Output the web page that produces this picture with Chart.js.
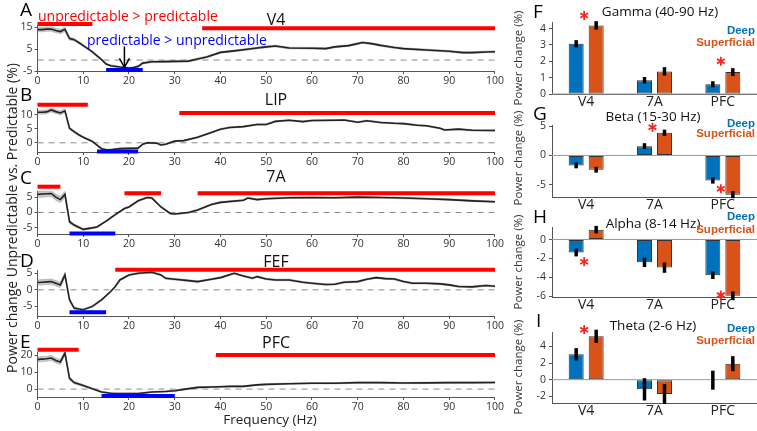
<!DOCTYPE html>
<html>
<head>
<meta charset="utf-8">
<script src="https://cdn.jsdelivr.net/npm/chart.js@4.4.1/dist/chart.umd.min.js"></script>
<style>
body{margin:0;width:757px;height:431px;position:relative;overflow:hidden;background:#fff;font-family:"Open Sans",sans-serif;}
canvas{position:absolute;}
.t{position:absolute;white-space:nowrap;line-height:1;}
</style>
</head>
<body>
<script>
// ---- spectra, left column (Hz vs % change) ----
const freqA = [0,1,2,3,4,5,6,7,8,9,10,12,14,15,16,18,20,21,22,23,25,28,30,33,35,37,40,43,45,48,50,52,55,60,63,65,68,70,71,73,75,78,80,85,90,93,95,98,100];
const powA  = [13.9,13.9,14.1,14.2,13.5,13.0,14.0,9.8,9.3,8.0,6.6,3.7,0.2,-1.8,-2.6,-3.2,-3.7,-3.4,-2.9,-1.4,-0.8,-0.7,-0.6,-0.5,0.5,1.4,3.5,4.2,4.7,5.5,6.0,6.4,5.5,5.4,5.2,6.0,6.6,7.5,8.0,7.5,6.7,5.7,5.2,4.6,4.0,3.4,3.4,3.7,3.8];
const semA  = [1,1,1,1,1,1,1,.7,.6,.5,.4,.4,.4,.4,.4,.4,.4,.4,.4,.4,.4,.4,.4,.4,.4,.4,.4,.4,.4,.4,.4,.4,.4,.4,.4,.4,.4,.4,.4,.4,.4,.4,.4,.4,.4,.4,.4,.4,.4];

const freqB = [0,1,2,3,4,5,6,7,8,9,10,12,13,14,15,16,18,20,22,23,24,26,27,28,30,32,35,38,40,42,45,48,50,52,55,58,60,65,67,70,72,75,78,80,83,85,88,89,92,95,100];
const powB  = [11.0,11.0,11.1,11.8,11.2,10.7,11.5,5.2,4.0,2.9,2.0,0.5,-0.8,-2.1,-2.5,-2.5,-2.1,-2.0,-1.9,-0.5,0,-0.1,-0.8,-0.5,0.6,0.8,2.0,3.7,4.9,5.5,5.8,6.6,6.6,7.7,8.1,7.6,8.0,8.1,8.2,7.4,7.9,7.3,7.0,6.9,6.3,6.1,5.2,4.6,4.9,4.5,4.4];
const semB  = [.7,.7,.7,.7,.7,.7,.7,.5,.4,.3,.25,.25,.25,.25,.25,.25,.25,.25,.25,.25,.25,.25,.25,.25,.25,.25,.25,.25,.25,.25,.25,.25,.25,.25,.25,.25,.25,.25,.25,.25,.25,.25,.25,.25,.25,.25,.25,.25,.25,.25,.25];

const freqC = [0,1,2,3,4,5,6,7,8,10,12,13,15,17,19,20,22,24,25,27,29,30,33,35,38,40,45,46,48,50,55,60,65,70,75,80,85,90,95,100];
const powC  = [5.9,6.0,6.1,6.2,5.0,4.2,5.9,-3.0,-4.1,-5.5,-5.0,-4.7,-2.8,-0.7,1.3,1.8,3.8,4.9,4.7,1.8,-0.3,-0.5,0,0.8,2.6,3.3,4.0,4.7,4.2,4.5,4.8,4.9,4.8,5.0,4.9,4.7,4.5,4.2,3.8,3.5];
const semC  = [1,1,1,1,1,1,1,.6,.4,.3,.25,.25,.25,.25,.25,.25,.25,.25,.25,.25,.25,.25,.25,.25,.25,.25,.25,.25,.25,.25,.25,.25,.25,.25,.25,.25,.25,.25,.25,.25];

const freqD = [0,1,2,3,4,5,6,7,8,9,10,12,14,16,17,18,20,22,25,27,28,30,33,35,38,40,43,45,47,48,50,52,55,58,60,63,65,67,70,72,74,76,78,80,82,85,88,90,92,95,98,100];
const powD  = [2.2,2.3,2.4,2.5,2.0,1.5,4.5,-3.0,-5.5,-5.8,-6.0,-5.0,-3.0,-0.5,1.0,3.0,4.5,5.0,5.3,4.5,3.5,3.2,2.8,2.5,3.2,3.7,5.0,4.2,3.5,4.0,3.3,3.0,3.0,2.3,2.0,1.6,1.7,2.3,2.5,3.2,3.7,3.4,3.3,2.5,2.0,2.0,1.8,1.5,1.0,0.9,1.3,1.1];
const semD  = [.8,.8,.8,.8,.8,.8,.8,.6,.4,.3,.25,.25,.25,.25,.25,.25,.25,.25,.25,.25,.25,.25,.25,.25,.25,.25,.25,.25,.25,.25,.25,.25,.25,.25,.25,.25,.25,.25,.25,.25,.25,.25,.25,.25,.25,.25,.25,.25,.25,.25,.25,.25];

const freqE = [0,1,2,3,4,5,6,7,8,10,12,14,16,18,20,22,25,28,30,32,35,38,40,42,45,48,50,55,60,65,70,75,80,85,90,95,100];
const powE  = [17.5,17.8,18.0,18.4,17.0,16.1,21.4,6.4,3.9,2.1,0.2,-1.7,-2.5,-2.7,-2.7,-2.7,-1.7,-1.4,-1.0,-0.2,1.0,1.2,1.4,1.6,1.6,2.5,2.8,3.2,3.5,3.5,3.8,3.8,3.6,3.7,3.8,3.8,3.9];
const semE  = [1.5,1.5,1.5,1.5,1.5,1.5,1.5,1,.8,.6,.4,.4,.4,.4,.4,.4,.4,.4,.4,.4,.4,.4,.4,.4,.4,.4,.4,.4,.4,.4,.4,.4,.4,.4,.4,.4,.4];

// significant frequency ranges (Hz)
const upA = [[0,12],[36,100]], downA = [[15,23]];
const upB = [[0,11],[31,100]], downB = [[13,22]];
const upC = [[0,5],[19,27],[35,100]], downC = [[7,17]];
const upD = [[17,100]], downD = [[7,15]];
const upE = [[0,9],[39,100]], downE = [[14,30]];

const freqTicks = [0,10,20,30,40,50,60,70,80,90,100];

// ---- laminar bars, right column ----
const areas = ['V4','7A','PFC'];
const deepF = [3.07,0.84,0.59],   supF = [4.19,1.38,1.34];
const errDeepF = [0.22,0.2,0.19], errSupF = [0.26,0.26,0.24];
const deepG = [-1.7,1.59,-4.26],  supG = [-2.44,3.86,-6.7];
const errDeepG = [0.5,0.5,0.55],  errSupG = [0.5,0.55,0.6];
const deepH = [-1.37,-2.42,-3.79], supH = [1.05,-2.98,-5.96];
const errDeepH = [0.42,0.5,0.4],  errSupH = [0.4,0.55,0.45];
const deepI = [3.04,-1.16,-0.06], supI = [5.2,-1.72,1.92];
const errDeepI = [0.74,1.34,1.14], errSupI = [0.8,1.2,0.9];
// significance stars: [area index, value]
const starsF = [[0,4.8],[2,2.0]];
const starsG = [[1,4.8],[2,-5.7]];
const starsH = [[0,-2.35],[2,-5.9]];
const starsI = [[0,6.0]];

Chart.defaults.font.family = '"Open Sans", sans-serif';

function addText(txt, x, y, size, color, opts) {
  opts = opts || {};
  const d = document.createElement('div');
  d.className = 't';
  d.textContent = txt;
  d.style.fontSize = size + 'px';
  d.style.color = color;
  if (opts.bold) d.style.fontWeight = 'bold';
  if (opts.family) d.style.fontFamily = opts.family;
  const tx = opts.align === 'left' ? '0' : opts.align === 'right' ? '-100%' : '-50%';
  d.style.left = x + 'px';
  d.style.top = y + 'px';
  d.style.transform = 'translate(' + tx + ',-50%)' + (opts.rot ? ' rotate(' + opts.rot + 'deg)' : '');
  document.body.appendChild(d);
}

function makeCanvas(left, top, w, h) {
  const c = document.createElement('canvas');
  c.width = w; c.height = h;
  c.style.left = left + 'px'; c.style.top = top + 'px';
  c.style.width = w + 'px'; c.style.height = h + 'px';
  document.body.appendChild(c);
  return c;
}

const zeroLine = {
  id: 'zeroLine',
  beforeDatasetsDraw(chart, args, o) {
    const {ctx, chartArea: a} = chart;
    const py = chart.scales.y.getPixelForValue(0);
    ctx.save();
    ctx.strokeStyle = o.color;
    ctx.lineWidth = 1;
    ctx.setLineDash(o.dash || []);
    ctx.beginPath(); ctx.moveTo(a.left, py); ctx.lineTo(a.right, py); ctx.stroke();
    ctx.restore();
  }
};

const arrowMark = {
  id: 'arrowMark',
  afterDatasetsDraw(chart, args, o) {
    if (!o.at) return;
    const {ctx, scales: {x, y}} = chart;
    const px = x.getPixelForValue(o.at), y1 = y.getPixelForValue(o.from), y2 = y.getPixelForValue(o.to);
    ctx.save();
    ctx.strokeStyle = '#000'; ctx.lineWidth = 1.5;
    ctx.beginPath(); ctx.moveTo(px, y1); ctx.lineTo(px, y2 - 1); ctx.stroke();
    ctx.beginPath(); ctx.moveTo(px - 5, y2 - 9); ctx.lineTo(px, y2); ctx.lineTo(px + 5, y2 - 9); ctx.stroke();
    ctx.restore();
  }
};

function spectrum(p) {
  const top = Math.round(p.top) - 20;
  const h = Math.round(p.bottom) - Math.round(p.top) + 36;
  const c = makeCanvas(0, top, 505, h);
  const hi = p.freq.map((f, i) => ({x: f, y: p.pow[i] + p.sem[i]}));
  const lo = p.freq.map((f, i) => ({x: f, y: p.pow[i] - p.sem[i]}));
  const mean = p.freq.map((f, i) => ({x: f, y: p.pow[i]}));
  const datasets = [
    {data: hi, fill: '+1', order: 5, backgroundColor: 'rgba(175,175,175,0.7)', borderColor: 'rgba(150,150,150,0.8)', borderWidth: 0.6},
    {data: lo, fill: false, order: 5, borderColor: 'rgba(150,150,150,0.8)', borderWidth: 0.6},
    {data: mean, order: 1, borderColor: '#222', borderWidth: 1.6}
  ];
  p.up.forEach((r, i) => datasets.push({
    data: [{x: r[0], y: p.upLevel[i]}, {x: r[1], y: p.upLevel[i]}], order: 0,
    borderColor: '#ff0000', borderWidth: 4, clip: false, borderCapStyle: 'butt'
  }));
  p.down.forEach((r) => datasets.push({
    data: [{x: r[0], y: p.downLevel}, {x: r[1], y: p.downLevel}], order: 0,
    borderColor: '#0000ff', borderWidth: 4, clip: false, borderCapStyle: 'butt'
  }));
  new Chart(c, {
    type: 'line',
    data: {datasets},
    options: {
      responsive: false, animation: false,
      layout: {padding: {top: 20, right: 8, left: 0, bottom: 0}},
      elements: {point: {radius: 0}, line: {tension: 0}},
      plugins: {legend: {display: false}, tooltip: {enabled: false},
        zeroLine: {color: '#8c8c8c', dash: [6, 5]}, arrowMark: p.arrow || {}},
      scales: {
        x: {type: 'linear', min: 0, max: 100,
          afterBuildTicks(s) { s.ticks = freqTicks.map(v => ({value: v})); },
          ticks: {font: {size: 10.5}, color: '#333', padding: 1, maxRotation: 0},
          grid: {drawOnChartArea: false, tickLength: 3, color: '#555'},
          border: {color: '#555'},
          afterFit(s) { s.height = 16; }},
        y: {min: p.min, max: p.max,
          afterBuildTicks(s) { s.ticks = p.ticks.map(v => ({value: v})); },
          ticks: {font: {size: 10.5}, color: '#333', padding: 2},
          grid: {drawOnChartArea: false, tickLength: 3, color: '#555'},
          border: {color: '#555'},
          afterFit(s) { s.width = 37.5; }}
      }
    },
    plugins: [zeroLine, arrowMark]
  });
}

const barExtras = {
  id: 'barExtras',
  afterDatasetsDraw(chart, args, o) {
    const {ctx, scales: {x, y}} = chart;
    ctx.save();
    ctx.strokeStyle = '#000'; ctx.lineWidth = 3.5;
    o.errors.forEach((errs, di) => {
      const meta = chart.getDatasetMeta(di);
      meta.data.forEach((bar, j) => {
        const v = chart.data.datasets[di].data[j];
        ctx.beginPath();
        ctx.moveTo(bar.x, y.getPixelForValue(v + errs[j]));
        ctx.lineTo(bar.x, y.getPixelForValue(v - errs[j]));
        ctx.stroke();
      });
    });
    ctx.strokeStyle = '#ff2020'; ctx.lineWidth = 1.8;
    o.stars.forEach(([ci, v]) => {
      const cx = x.getPixelForValue(ci) - 2, cy = y.getPixelForValue(v), r = 4.5;
      [90, 30, 150].forEach(a => {
        const dx = r * Math.cos(a * Math.PI / 180), dy = r * Math.sin(a * Math.PI / 180);
        ctx.beginPath(); ctx.moveTo(cx - dx, cy - dy); ctx.lineTo(cx + dx, cy + dy); ctx.stroke();
      });
    });
    ctx.restore();
  }
};

function laminar(p) {
  const top = Math.round(p.top) - 12;
  const h = Math.round(p.bottom) - Math.round(p.top) + 32;
  const c = makeCanvas(500, top, 257, h);
  const bar = {categoryPercentage: 0.585, barPercentage: 0.75, borderColor: '#333', borderWidth: 1, borderSkipped: false};
  new Chart(c, {
    type: 'bar',
    data: {labels: areas, datasets: [
      Object.assign({data: p.deep, backgroundColor: '#0072BD'}, bar),
      Object.assign({data: p.sup, backgroundColor: '#D95319'}, bar)
    ]},
    options: {
      responsive: false, animation: false,
      layout: {padding: {top: 12, right: 0, left: 0, bottom: 0}},
      plugins: {legend: {display: false}, tooltip: {enabled: false},
        zeroLine: {color: '#999'},
        barExtras: {errors: [p.errDeep, p.errSup], stars: p.stars}},
      scales: {
        x: {grid: {display: false, drawTicks: false}, border: {color: '#555'},
          ticks: {font: {size: 14}, color: '#222', padding: 0},
          afterFit(s) { s.height = 20; }},
        y: {min: p.min, max: p.max,
          afterBuildTicks(s) { s.ticks = p.ticks.map(v => ({value: v})); },
          ticks: {font: {size: 10.5}, color: '#333', padding: 3},
          grid: {drawOnChartArea: false, tickLength: 3, color: '#555'},
          border: {color: '#555'},
          afterFit(s) { s.width = 52; }}
      }
    },
    plugins: [zeroLine, barExtras]
  });
}

spectrum({freq: freqA, pow: powA, sem: semA, top: 25.4, bottom: 71.2, min: -5, max: 16, ticks: [-5,0,5,10,15],
  up: upA, upLevel: [16.5, 14.5], down: downA, downLevel: -4.6, arrow: {at: 19, from: 6.2, to: -3.3}});
spectrum({freq: freqB, pow: powB, sem: semB, top: 108, bottom: 152.2, min: -3.3, max: 12.5, ticks: [0,5,10],
  up: upB, upLevel: [13.7, 10.7], down: downB, downLevel: -3.1});
spectrum({freq: freqC, pow: powC, sem: semC, top: 190.8, bottom: 233.8, min: -7, max: 7, ticks: [-5,0,5],
  up: upC, upLevel: [8.4, 6.3, 6.3], down: downC, downLevel: -6.8});
spectrum({freq: freqD, pow: powD, sem: semD, top: 270, bottom: 316.3, min: -7.9, max: 6, ticks: [-5,0,5],
  up: upD, upLevel: [6.1], down: downD, downLevel: -6.8});
spectrum({freq: freqE, pow: powE, sem: semE, top: 351.9, bottom: 397.3, min: -4.7, max: 22, ticks: [0,10,20],
  up: upE, upLevel: [23.3, 20.2], down: downE, downLevel: -4.1});

laminar({deep: deepF, sup: supF, errDeep: errDeepF, errSup: errSupF, stars: starsF, top: 21.5, bottom: 93.7, min: 0, max: 4.4, ticks: [0,1,2,3,4]});
laminar({deep: deepG, sup: supG, errDeep: errDeepG, errSup: errSupG, stars: starsG, top: 124.5, bottom: 196.7, min: -7.1, max: 5.2, ticks: [-5,0,5]});
laminar({deep: deepH, sup: supH, errDeep: errDeepH, errSup: errSupH, stars: starsH, top: 226.7, bottom: 297.3, min: -6.1, max: 1.33, ticks: [-6,-4,-2,0]});
laminar({deep: deepI, sup: supI, errDeep: errDeepI, errSup: errSupI, stars: starsI, top: 331.7, bottom: 402.6, min: -2.8, max: 5.72, ticks: [-2,0,2,4]});

// ---- text ----
[['A', 8.5], ['B', 93.5], ['C', 176.5], ['D', 260], ['E', 340.5]].forEach(([l, y]) => addText(l, 20, y, 19, '#000', {align: 'left'}));
[['V4', 19], ['LIP', 99], ['7A', 176], ['FEF', 261], ['PFC', 342]].forEach(([l, y]) => addText(l, 276, y, 16, '#111'));
addText('unpredictable  > predictable', 38, 16, 14, '#ff0000', {align: 'left'});
addText('predictable > unpredictable', 87, 40, 14, '#0000ff', {align: 'left'});
addText('Power change Unpredictable vs. Predictable (%)', 12, 218, 14, '#222', {rot: -90});
addText('Frequency (Hz)', 270, 420, 13.5, '#222');

[['F', 11, 533], ['G', 113, 533], ['H', 216, 533], ['I', 320, 536]].forEach(([l, y, x]) => addText(l, x, y, 19, '#000', {align: 'left'}));
[['Gamma (40-90 Hz)', 12, 660], ['Beta (15-30 Hz)', 117, 653], ['Alpha (8-14 Hz)', 224, 653], ['Theta (2-6 Hz)', 326, 653]].forEach(([l, y, x]) => addText(l, x, y, 13.5, '#111'));
[[31, 42.5], [123.5, 134], [217, 230], [328.5, 340.5]].forEach(([a, b]) => {
  addText('Deep', 755, a, 11.5, '#0072BD', {align: 'right', bold: true, family: '"Liberation Sans", sans-serif'});
  addText('Superficial', 755, b, 11.5, '#D95319', {align: 'right', bold: true, family: '"Liberation Sans", sans-serif'});
});
[58, 158, 262, 367].forEach(y => addText('Power change (%)', 518, y, 11.5, '#333', {rot: -90}));
</script>
</body>
</html>
